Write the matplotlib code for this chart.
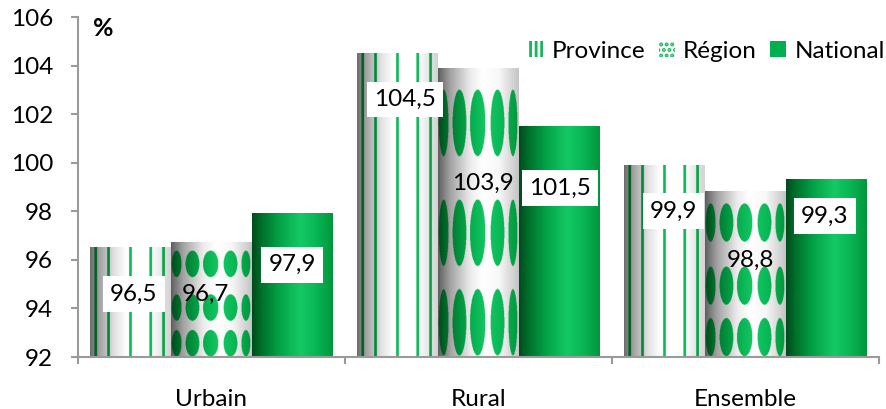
import numpy as np
import matplotlib.pyplot as plt
from matplotlib.colors import to_rgb
from matplotlib.patches import Patch

# chart values
categories = ['Urbain', 'Rural', 'Ensemble']
series_names = ['Province', 'Région', 'National']
province = [96.5, 104.5, 99.9]
region = [96.7, 103.9, 98.8]
national = [97.9, 101.5, 99.3]
values = [province, region, national]

# where Excel put the data labels (y in data units, x shift in bar widths)
label_y = [[94.6, 102.6, 98.0],
           [94.6, 99.15, 96.0],
           [95.8, 98.95, 97.8]]
label_dx = [[0.04, 0.09, 0.11],
            [-0.07, 0.05, 0.06],
            [0.0, 0.01, -0.02]]

plt.rcParams['font.family'] = ['Lato', 'DejaVu Sans']
plt.rcParams['hatch.color'] = '#12b85a'
plt.rcParams['hatch.linewidth'] = 2.0

green_stops = [(0, '#004a1c'), (0.12, '#00702b'), (0.35, '#03a548'),
               (0.6, '#14c964'), (0.8, '#08b554'), (1, '#00963b')]
prov_stops = [(0, '#6a6a6a'), (0.1, '#9c9c9c'), (0.3, '#e2e2e2'),
              (0.45, '#ffffff'), (0.75, '#ffffff'), (1, '#d2d2d2')]
reg_stops = [(0, '#5e5e5e'), (0.15, '#a2a2a2'), (0.4, '#ececec'),
             (0.55, '#ffffff'), (0.75, '#f8f8f8'), (1, '#c4c4c4')]


def grad(t, stops):
    ts = [s[0] for s in stops]
    cols = np.array([to_rgb(s[1]) for s in stops])
    return np.stack([np.interp(t, ts, cols[:, i]) for i in range(3)], axis=-1)


def bar_image(kind, nx=240, ny=360):
    t = (np.arange(nx) + 0.5) / nx
    s = (np.arange(ny) + 0.5) / ny
    T, S = np.meshgrid(t, s)
    green = grad(T, green_stops)
    if kind == 0:
        img = grad(T, prov_stops)
        mask = np.zeros_like(T, dtype=bool)
        for cx in [0.07, 0.23, 0.5, 0.75, 0.91]:
            mask |= np.abs(T - cx) < 0.017
        img[mask] = green[mask]
    elif kind == 1:
        img = grad(T, reg_stops)
        mask = np.zeros_like(T, dtype=bool)
        for cx, w in zip([0.07, 0.265, 0.49, 0.735, 0.925], [0.12, 0.17, 0.19, 0.17, 0.11]):
            for cy in [0.19, 0.57, 0.88]:
                mask |= ((T - cx) / (w / 2)) ** 2 + ((S - cy) / 0.115) ** 2 <= 1
        img[mask] = green[mask]
    else:
        img = green
    return img


fig = plt.figure(figsize=(8.87, 4.09), dpi=100)
ax = fig.add_axes([78 / 887, 52 / 409, 801 / 887, 340 / 409])

fs = 17.5
x = np.arange(len(categories))
width = 0.303
for i, vals in enumerate(values):
    bars = ax.bar(x + (i - 1) * width, vals, width, color='none', edgecolor='none')
    img = bar_image(i)
    for j, b in enumerate(bars):
        x0, w, h = b.get_x(), b.get_width(), b.get_height()
        ax.imshow(img, extent=[x0, x0 + w, 92, h], aspect='auto',
                  interpolation='antialiased', zorder=2)
        lab = f'{vals[j]:.1f}'.replace('.', ',')
        box = None if i == 1 else dict(facecolor='white', edgecolor='none',
                                        boxstyle='square,pad=0.3')
        ax.text(x0 + w / 2 + label_dx[i][j] * w, label_y[i][j], lab,
                ha='center', va='center', fontsize=fs, bbox=box, zorder=4)

ax.set_xlim(-0.5, 2.5)
ax.set_ylim(92, 106)
ax.set_yticks(np.arange(92, 107, 2))
ax.set_xticks(x)
ax.set_xticklabels(categories)
ax.set_xticks([-0.5, 0.5, 1.5, 2.5], minor=True)

for side in ['top', 'right']:
    ax.spines[side].set_visible(False)
for side in ['left', 'bottom']:
    ax.spines[side].set_color('#9a9a9a')
    ax.spines[side].set_linewidth(1.5)
ax.tick_params(axis='y', direction='out', length=5, width=1.5, color='#9a9a9a',
               labelsize=fs, pad=13)
ax.tick_params(axis='x', which='major', length=0, labelsize=fs, pad=23)
ax.tick_params(axis='x', which='minor', direction='out', length=5, width=1.5,
               color='#9a9a9a')

ax.text(0.031, 0.965, '%', transform=ax.transAxes, fontsize=18,
        fontweight='bold', ha='center', va='center')

handles = [Patch(facecolor='white', edgecolor='#12b85a', hatch='|||', lw=0),
           Patch(facecolor='white', edgecolor='#12b85a', hatch='...', lw=0),
           Patch(facecolor='#00b050', edgecolor='none')]
fig.legend(handles, series_names, loc='center right', ncol=3,
           bbox_to_anchor=(885 / 887, 1 - 51 / 409), frameon=False,
           fontsize=fs, handlelength=0.65, handleheight=0.65,
           handletextpad=0.35, columnspacing=0.55, borderpad=0, borderaxespad=0)

fig.savefig('out.png', dpi=100)
